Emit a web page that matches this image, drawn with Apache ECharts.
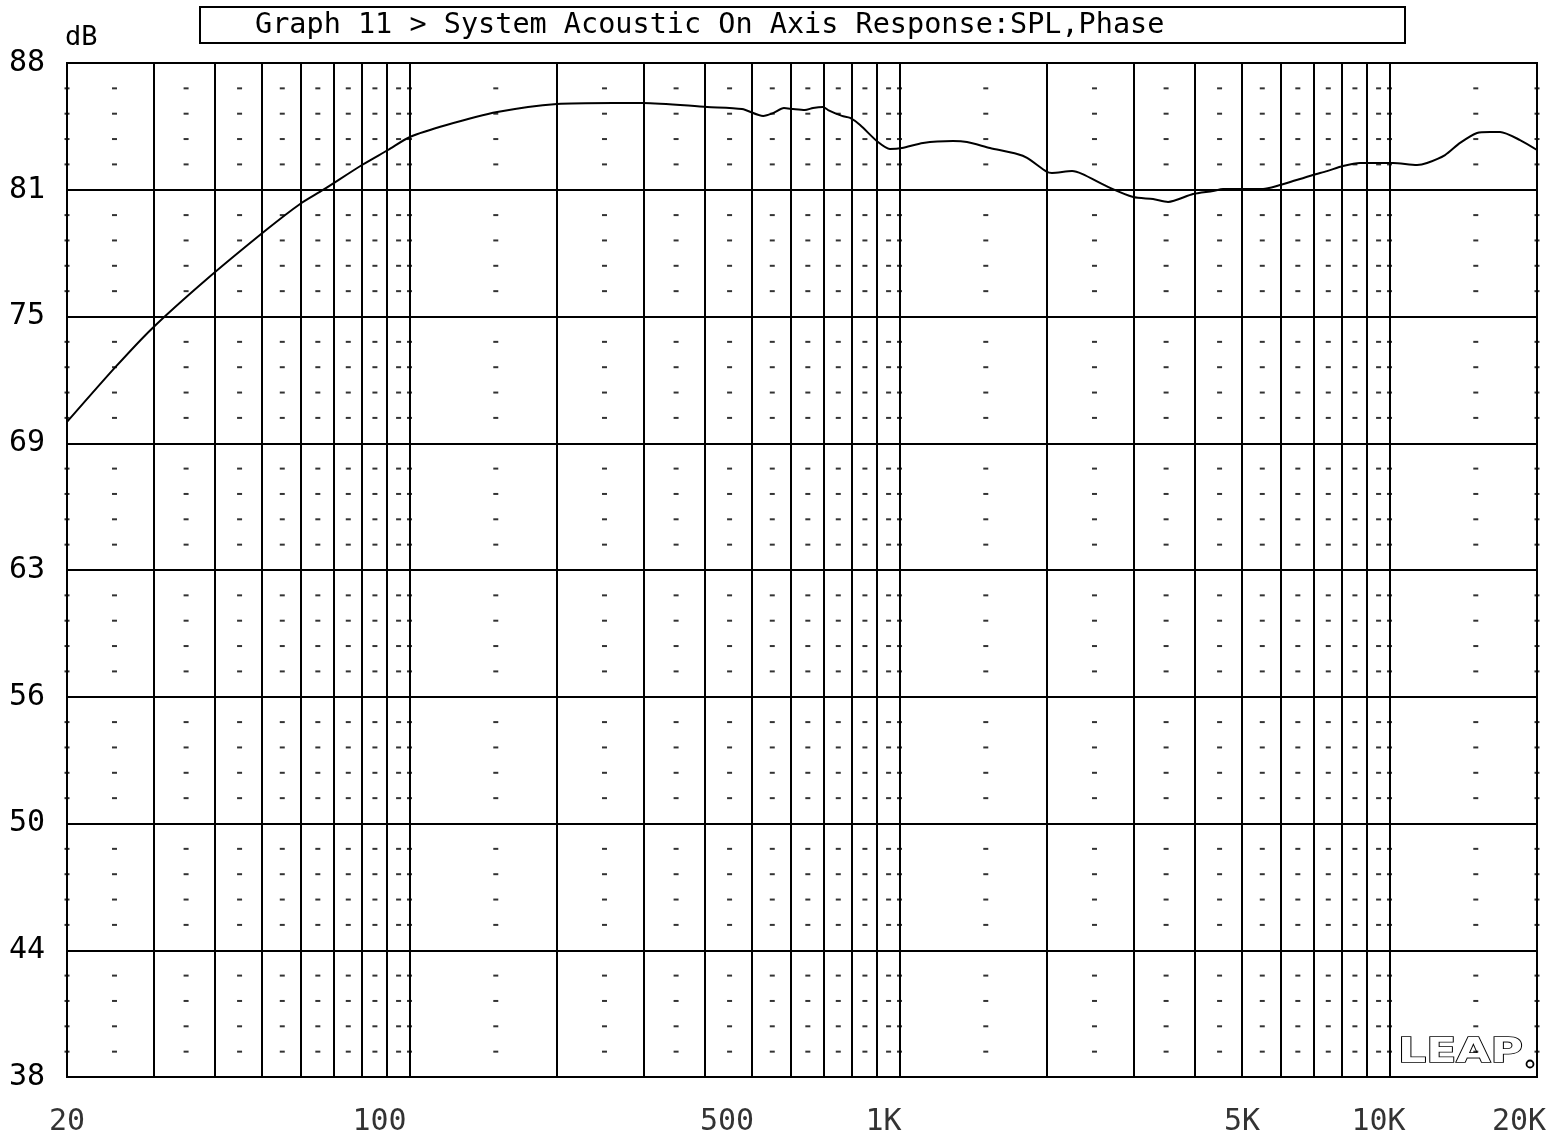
<!DOCTYPE html>
<html><head><meta charset="utf-8">
<script src="https://cdn.jsdelivr.net/npm/echarts@6/dist/echarts.min.js"></script>
<style>html,body{margin:0;padding:0;background:#fff}#c{width:1554px;height:1138px}</style>
</head><body><div id="c"></div>
<script>
// ---- data ----
const freqHz = [
  20, 25.1, 29.8, 38.4, 51.2, 59.8, 66.6, 80, 90.4, 100.2,
  119, 151, 200, 260, 300, 405, 477, 527, 552, 581,
  606, 641, 666, 698, 715, 763, 793, 831, 904, 956,
  1012, 1117, 1286, 1373, 1530, 1738, 1821, 2000, 2047, 2250,
  2358, 2690, 3000, 3292, 3532, 3972, 4364, 4573, 5520, 5978,
  6178, 6980, 7456, 8036, 8708, 9564, 10166, 11380, 11928, 12982,
  13932, 15088, 16040, 16812, 18466, 20000
];
const splDb = [
  70.3, 73.0, 74.9, 77.3, 79.8, 81.05, 81.74, 82.97, 83.71, 84.35,
  84.94, 85.58, 85.98, 86.03, 86.03, 85.83, 85.73, 85.39, 85.53, 85.78,
  85.73, 85.68, 85.78, 85.83, 85.68, 85.39, 85.29, 84.94, 84.10, 83.76,
  83.81, 84.06, 84.15, 84.10, 83.81, 83.51, 83.32, 82.63, 82.58, 82.67,
  82.53, 81.84, 81.39, 81.29, 81.15, 81.54, 81.69, 81.79, 81.79, 81.98,
  82.08, 82.48, 82.67, 82.92, 83.07, 83.07, 83.07, 82.97, 83.07, 83.46,
  84.06, 84.55, 84.60, 84.60, 84.20, 83.71
];
const xTickFreqs = [20, 100, 500, 1000, 5000, 10000, 20000];
const xTickText  = ['20', '100', '500', '1K', '5K', '10K', '20K'];
const majorFreqs = [30,40,50,60,70,80,90,100,200,300,400,500,600,700,800,900,1000,
                    2000,3000,4000,5000,6000,7000,8000,9000,10000];
const minorFreqs = [20,25,35,45,55,65,75,85,95,100,150,250,350,450,550,650,750,850,950,1000,
                    1500,2500,3500,4500,5500,6500,7500,8500,9500,10000,15000,20000];
const yMin = 38, yMax = 88, yStep = 6.25, yMinorStep = 1.25;
const titleText = 'Graph 11 > System Acoustic On Axis Response:SPL,Phase';
const yUnit = 'dB';

// layout-only constants
const xLabelShift = [0, -30, -25, -16, 0, -11, -18];
const FONT = "'DejaVu Sans Mono', monospace";

const curve = freqHz.map((f, i) => [f, splDb[i]]);
const minorDb = [];
for (let v = yMin + yMinorStep; v < yMax - 1e-9; v += yMinorStep) {
  if (Math.abs(((v - yMin) / yStep) - Math.round((v - yMin) / yStep)) > 1e-6) minorDb.push(v);
}
const dashPts = [];
minorFreqs.forEach(f => minorDb.forEach(v => dashPts.push([f, v])));

const chart = echarts.init(document.getElementById('c'), null, {renderer: 'canvas'});
chart.setOption({
  animation: false,
  backgroundColor: '#fff',
  grid: {left: 67, right: 17, top: 63, bottom: 61, show: true, borderColor: '#000', borderWidth: 2, backgroundColor: 'transparent'},
  xAxis: {
    type: 'log', logBase: 10, min: 20, max: 20000,
    axisLine: {show: false}, axisTick: {show: false}, axisLabel: {show: false},
    splitLine: {show: false}, minorSplitLine: {show: false}
  },
  yAxis: {
    type: 'value', min: yMin, max: yMax, interval: yStep,
    axisLine: {show: true, lineStyle: {color: '#000', width: 2}},
    axisTick: {show: false},
    axisLabel: {color: '#000', fontFamily: FONT, fontSize: 30, margin: 22,
      formatter: v => String(Math.floor(v + 1e-9))},
    splitLine: {show: true, lineStyle: {color: '#000', width: 2, type: 'solid'}}
  },
  series: [
    {
      type: 'scatter', data: dashPts, symbol: 'rect', symbolSize: [5, 2],
      itemStyle: {color: '#000'}, silent: true, clip: false, z: 1
    },
    {
      type: 'line', data: curve, showSymbol: false, smooth: 0.25,
      lineStyle: {color: '#000', width: 2}, silent: true, z: 3,
      markLine: {
        silent: true, symbol: ['none', 'none'], label: {show: false},
        lineStyle: {color: '#000', width: 2, type: 'solid'},
        data: majorFreqs.map(f => ({xAxis: f}))
      }
    },
    {
      type: 'scatter', symbolSize: 1, itemStyle: {color: 'rgba(0,0,0,0)'},
      clip: false, silent: true,
      data: xTickFreqs.map((f, i) => ({
        value: [f, yMin],
        label: {show: true, position: 'bottom', distance: 30, offset: [xLabelShift[i], 0],
          formatter: () => xTickText[i], color: '#000', fontFamily: FONT, fontSize: 30}
      }))
    }
  ],
  graphic: [
    {type: 'rect', shape: {x: 200, y: 7, width: 1205, height: 36},
      style: {fill: 'none', stroke: '#000', lineWidth: 2}},
    {type: 'text', x: 255, y: 26, style: {text: titleText, font: "28.5px " + FONT, fill: '#000', verticalAlign: 'middle'}},
    {type: 'text', x: 65, y: 38, style: {text: yUnit, font: "27px " + FONT, fill: '#000', verticalAlign: 'middle'}},
    {type: 'text', x: 1398, y: 1053, scaleX: 1.3, scaleY: 1,
      style: {text: 'LEAP', font: "bold 34px 'DejaVu Sans'", fill: '#fff', stroke: '#000', lineWidth: 1.6, verticalAlign: 'middle'}},
    {type: 'circle', shape: {cx: 1530, cy: 1064, r: 3.5}, style: {fill: '#fff', stroke: '#000', lineWidth: 1.8}}
  ]
});
</script>
</body></html>
